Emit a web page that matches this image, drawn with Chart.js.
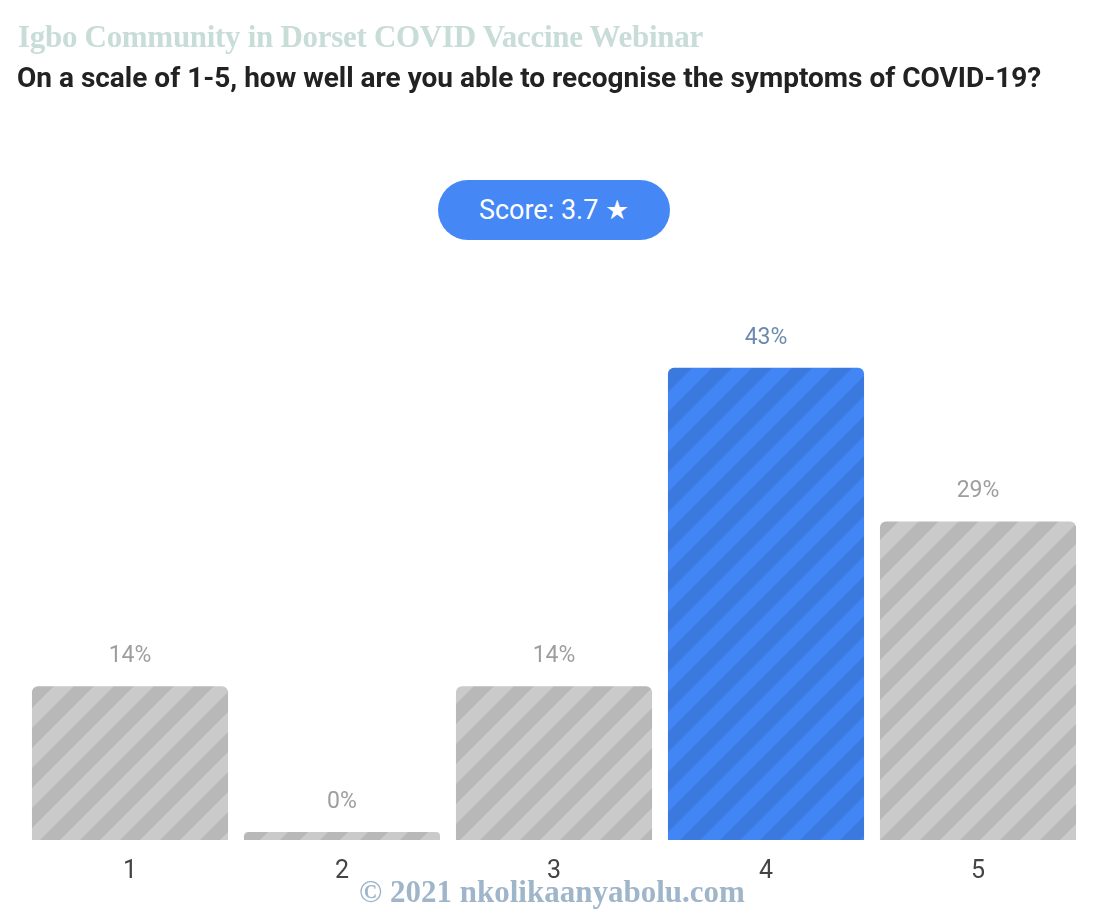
<!DOCTYPE html>
<html>
<head>
<meta charset="utf-8">
<script src="https://cdn.jsdelivr.net/npm/chart.js@4"></script>
<style>
  html, body { margin: 0; padding: 0; background: #fff; }
  #wrap { position: relative; width: 1104px; height: 924px; overflow: hidden; }
  #chart { position: absolute; left: 0; top: 0; }
  .brand { position: absolute; left: 18px; top: 19px; font-family: "Liberation Serif", serif; font-weight: bold;
           font-size: 31px; color: #c8dcd8; white-space: nowrap; letter-spacing: -0.3px; }
  .question { position: absolute; left: 17px; top: 61px; font-family: Roboto, sans-serif; font-weight: bold;
              font-size: 28px; color: #222; white-space: nowrap; }
  .score { position: absolute; left: 438px; top: 180px; width: 232px; height: 60px; border-radius: 30px;
           background: #4487f5; color: #fff; font-family: Roboto, sans-serif; font-size: 27px;
           line-height: 60px; text-align: center; }
  .footer { position: absolute; left: 0; width: 1104px; top: 874px; text-align: center;
            font-family: "Liberation Serif", serif; font-weight: bold; font-size: 31px; color: #9fb5ca; }
</style>
</head>
<body>
<div id="wrap">
  <canvas id="chart" width="1104" height="924"></canvas>
  <div class="brand">Igbo Community in Dorset COVID Vaccine Webinar</div>
  <div class="question">On a scale of 1-5, how well are you able to recognise the symptoms of COVID-19?</div>
  <div class="score">Score: 3.7 ★</div>
  <div class="footer">© 2021 nkolikaanyabolu.com</div>
</div>
<script>
const categories = ['1', '2', '3', '4', '5'];
const percentages = [14, 0, 14, 43, 29];
const highlighted = [false, false, false, true, false];

// diagonal stripe fill for the bars
const stripes = (light, dark) => {
    const tile = document.createElement('canvas');
    tile.width = 40;
    tile.height = 40;
    const c = tile.getContext('2d');
    c.fillStyle = light;
    c.fillRect(0, 0, 40, 40);
    c.fillStyle = dark;
    c.beginPath();
    c.moveTo(0, 0); c.lineTo(20, 0); c.lineTo(0, 20); c.closePath();
    c.moveTo(40, 0); c.lineTo(40, 20); c.lineTo(20, 40); c.lineTo(0, 40); c.closePath();
    c.fill();
    return c.createPattern(tile, 'repeat');
};

const ctx = document.getElementById('chart').getContext('2d');
const greyFill = stripes('#cacaca', '#b8b8b8');
const blueFill = stripes('#4285f4', '#3b79de');

const valueLabels = {
    id: 'valueLabels',
    afterDatasetsDraw(chart) {
        const c = chart.ctx;
        const meta = chart.getDatasetMeta(0);
        c.save();
        c.font = '23px Roboto, sans-serif';
        c.textAlign = 'center';
        c.textBaseline = 'middle';
        meta.data.forEach((bar, i) => {
            c.fillStyle = highlighted[i] ? '#6a8ab0' : '#9e9e9e';
            c.fillText(percentages[i] + '%', bar.x, bar.y - 30);
        });
        c.restore();
    }
};

new Chart(ctx, {
    type: 'bar',
    data: {
        labels: categories,
        datasets: [{
            data: percentages,
            backgroundColor: highlighted.map(h => h ? blueFill : greyFill),
            borderRadius: 6,
            borderSkipped: 'bottom',
            minBarLength: 8,
            barPercentage: 0.925,
            categoryPercentage: 1
        }]
    },
    options: {
        responsive: false,
        animation: false,
        layout: { padding: { left: 24, right: 20, top: 291, bottom: 28 } },
        plugins: { legend: { display: false }, tooltip: { enabled: false } },
        scales: {
            x: {
                grid: { display: false },
                border: { display: false },
                ticks: { color: '#444', font: { family: 'Roboto', size: 25 }, padding: 9 }
            },
            y: { display: false, min: 0, max: 50 }
        }
    },
    plugins: [valueLabels]
});
</script>
</body>
</html>
